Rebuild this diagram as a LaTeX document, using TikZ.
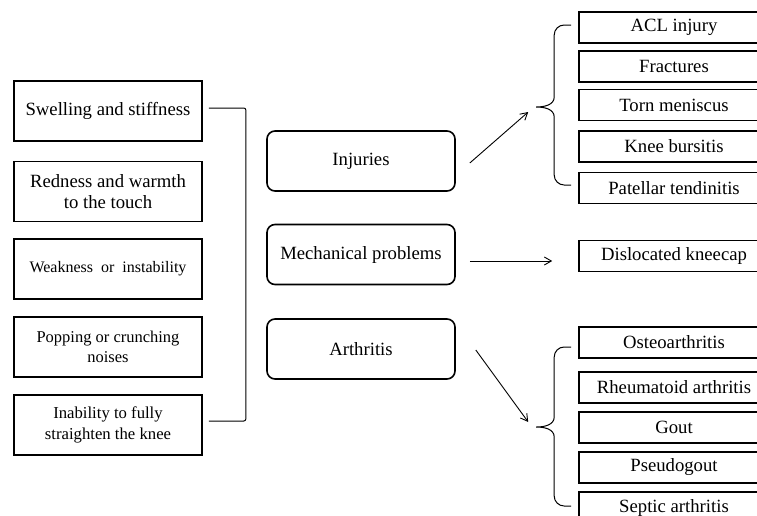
\documentclass[tikz,border=0pt]{standalone}
\usepackage{fontspec}
\setmainfont{Liberation Serif}
\usetikzlibrary{arrows.meta}
\begin{document}
\begin{tikzpicture}[x=1pt,y=-1pt,font=\fontsize{18.7}{21}\selectfont,
    symbox/.style={draw,line width=1.6pt,minimum width=188pt,minimum height=60pt,inner sep=0pt,align=center},
    causebox/.style={symbox,rounded corners=8pt},
    typebox/.style={draw,line width=1.6pt,minimum width=190pt,minimum height=31pt,inner sep=0pt},
    arr/.style={-{Straight Barb[length=7pt,width=8pt]},line width=.9pt},
    brk/.style={line width=1pt}]
      \useasboundingbox (0,0) rectangle (757,515);
      \node[symbox] (s1) at (108,111) {Swelling and stiffness};
      \node[symbox] (s2) at (108,191.5) {Redness and warmth\\to the touch};
      \node[symbox,font=\fontsize{16}{20}\selectfont] (s3) at (108,269) {Weakness\ \ or\ \ instability};
      \node[symbox,font=\fontsize{16.5}{20}\selectfont] (s4) at (108,347) {Popping or crunching\\noises};
      \node[symbox,font=\fontsize{16.7}{21}\selectfont] (s5) at (108,425) {Inability to fully\\straighten the knee};
      \draw[brk,rounded corners=2pt] ([xshift=6pt,yshift=3pt]s1.east) -- ++(37,0) -- ([xshift=43pt,yshift=4pt]s5.east) -- ([xshift=6pt,yshift=4pt]s5.east);
      \node[causebox] (inj) at (361,161) {Injuries};
      \node[causebox] (mech) at (361,254.5) {Mechanical problems};
      \node[causebox] (arth) at (361,349) {Arthritis};
      \node[typebox] (i1) at (674,27.5) {ACL injury};
      \node[typebox] (i2) at (674,66.5) {Fractures};
      \node[typebox] (i3) at (674,105) {Torn meniscus};
      \node[typebox] (i4) at (674,146.5) {Knee bursitis};
      \node[typebox] (i5) at (674,188) {Patellar tendinitis};
      \node[typebox] (d1) at (674,256) {Dislocated kneecap};
      \node[typebox] (a1) at (674,342.5) {Osteoarthritis};
      \node[typebox] (a2) at (674,387.5) {Rheumatoid arthritis};
      \node[typebox] (a3) at (674,427.5) {Gout};
      \node[typebox] (a4) at (674,467.5) {Pseudogout};
      \node[typebox] (a5) at (674,507.5) {Septic arthritis};
      \draw[brk] ([xshift=-7pt,yshift=2.5pt]i1.west) -- ++(-7,0) to[out=180,in=90] ++(-10,10) -- ++(0,62)
        to[out=-90,in=0] ++(-18,10) coordinate (itip) to[out=0,in=90] ++(18,10) -- ++(0,58)
        to[out=-90,in=180] ++(10,10) -- ++(7,0);
      \draw[brk] ([xshift=-7pt,yshift=-4.5pt]a1.west) -- ++(-7,0) to[out=180,in=90] ++(-10,10) -- ++(0,60)
        to[out=-90,in=0] ++(-18,10) coordinate (atip) to[out=0,in=90] ++(18,10) -- ++(0,59)
        to[out=-90,in=180] ++(10,10) -- ++(7,0);
      \draw[arr] ([xshift=14pt,yshift=-2pt]inj.east) -- ([xshift=-8pt,yshift=-5pt]itip);
      \draw[arr] ([xshift=14pt,yshift=-6.5pt]mech.east) -- ([xshift=-26pt,yshift=-5pt]d1.west);
      \draw[arr] ([xshift=20pt,yshift=-1pt]arth.east) -- ([xshift=-8pt,yshift=5pt]atip);
    \end{tikzpicture}
\end{document}
